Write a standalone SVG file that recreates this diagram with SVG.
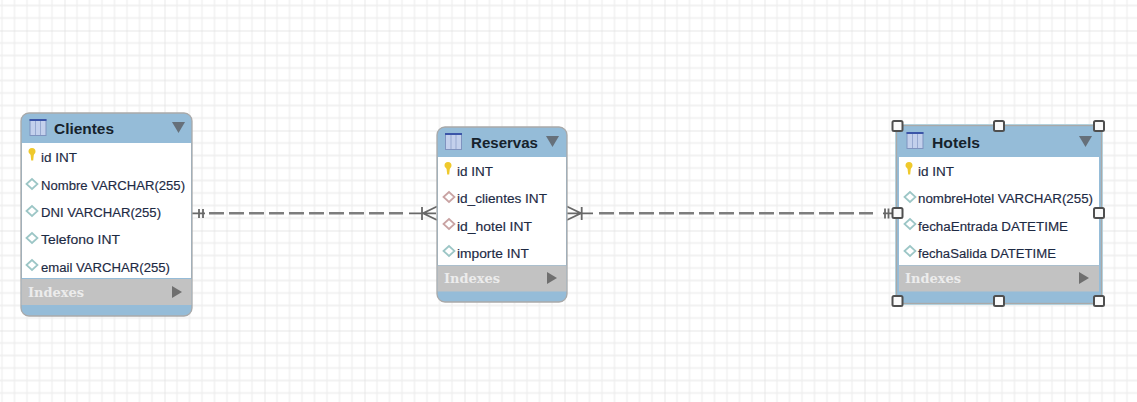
<svg xmlns="http://www.w3.org/2000/svg" width="1137" height="402" viewBox="0 0 1137 402">
<style>
.minor{stroke:#eeeeee;stroke-width:1.3;fill:none}
.major{stroke:#dfdfdf;stroke-width:1.3;fill:none}
.body{fill:#95bcd8;stroke:#a9a9a9;stroke-width:1.3}
.white{fill:#fff}
.idx{fill:#c2c2c2}
.title{font:bold 15px "Liberation Sans",Arial,sans-serif;fill:#16222c}
.col{font:12.5px "Liberation Sans",Arial,sans-serif;fill:#1d2a44;stroke:#1d2a44;stroke-width:.15}
.ix{font:bold 13px "DejaVu Serif","Liberation Serif",serif;fill:#ececec}
.tri{fill:#66707a}
.tri2{fill:#6f6f6f}
.dia{fill:#fff;stroke:#9cc6c6;stroke-width:1.7}
.fk{fill:#fff;stroke:#c9a3a3;stroke-width:1.7}
.key{fill:#efc92c}
.conn{stroke:#7d7d7d;stroke-width:2.4;fill:none}
.dash{stroke-dasharray:15 5}
.thin{stroke:#686868;stroke-width:1.8;fill:none}
.h{fill:#fafafa;stroke:#4f4f4f;stroke-width:2}
</style>
<defs>
<g id="tbl"><rect x="0.500" y="0.500" width="16" height="16" fill="#c3d0ec" stroke="#7f93bf"/><path d="M0 1H17" stroke="#3b55a8" stroke-width="2"/><path d="M6 2V16M11 2V16" stroke="#97a9d0"/></g>
<path id="key" class="key" d="M-3.500-3.500a3.500 3.500 0 0 1 7 0c0 2-1.300 2.400-1.700 3.500l-.6 5.500h-2l-.6-5.500c-.4-1.100-2.100-1.500-2.100-3.500z"/>
<path id="d" d="M-5.500 0L0-5L5.500 0L0 5Z"/>
<pattern id="g" width="100" height="100" x="64.500" y="30.500" patternUnits="userSpaceOnUse">
<path class="minor" d="M12.500 0V100M25 0V100M37.500 0V100M50 0V100M62.500 0V100M75 0V100M87.500 0V100M0 12.500H100M0 25H100M0 37.500H100M0 50H100M0 62.500H100M0 75H100M0 87.500H100"/>
<path class="major" d="M0 0V100M0 0H100"/>
</pattern>
</defs>
<rect width="1137" height="402" fill="#fff"/>
<rect width="1137" height="402" fill="url(#g)"/>
<g id="connectors">
<path class="conn dash" d="M209 213.300H403"/>
<path class="conn dash" d="M599 213.300H873"/>
<path class="thin" d="M192 213.300H205M199 209V218M203 209V218M409 213.300H436M437 206.500L423 213.300L437 220M422 207V220"/>
<path class="thin" d="M567 213.300H593M567 206.500L581 213.300L567 220M581.700 207V220M883 213.300H897M885 208.500V218.500M888.500 208.500V218.500"/>
</g>
<g id="Clientes">
<rect class="body" x="21" y="113" width="171" height="203" rx="8"/>
<rect class="white" x="22" y="143" width="169" height="135"/>
<rect class="idx" x="21.600" y="279" width="169.800" height="26"/>
<use href="#tbl" x="29.500" y="119"/>
<text class="title" x="54" y="134" textLength="60" lengthAdjust="spacingAndGlyphs">Clientes</text>
<path class="tri" d="M172 122H185L178.500 133Z"/>
<use href="#key" x="32" y="155"/>
<text class="col" x="41" y="162" textLength="36" lengthAdjust="spacingAndGlyphs">id INT</text>
<use href="#d" class="dia" x="32" y="184"/>
<text class="col" x="41" y="190" textLength="144" lengthAdjust="spacingAndGlyphs">Nombre VARCHAR(255)</text>
<use href="#d" class="dia" x="32" y="211"/>
<text class="col" x="41" y="217" textLength="120" lengthAdjust="spacingAndGlyphs">DNI VARCHAR(255)</text>
<use href="#d" class="dia" x="32" y="238"/>
<text class="col" x="41" y="244" textLength="79" lengthAdjust="spacingAndGlyphs">Telefono INT</text>
<use href="#d" class="dia" x="32" y="265"/>
<text class="col" x="41" y="272" textLength="129" lengthAdjust="spacingAndGlyphs">email VARCHAR(255)</text>
<text class="ix" x="28" y="297" textLength="56" lengthAdjust="spacingAndGlyphs">Indexes</text>
<path class="tri2" d="M172 286L182 292L172 298Z"/>
</g>
<g id="Reservas">
<rect class="body" x="437" y="127" width="130" height="175" rx="8"/>
<rect class="white" x="438" y="157" width="128" height="108"/>
<rect class="idx" x="437.600" y="265.500" width="128.800" height="26"/>
<use href="#tbl" x="445" y="133"/>
<text class="title" x="471" y="148" textLength="67" lengthAdjust="spacingAndGlyphs">Reservas</text>
<path class="tri" d="M546 136H559L552.500 147Z"/>
<use href="#key" x="448" y="169"/>
<text class="col" x="457" y="176" textLength="36" lengthAdjust="spacingAndGlyphs">id INT</text>
<use href="#d" class="fk" x="449" y="197"/>
<text class="col" x="457" y="203" textLength="90" lengthAdjust="spacingAndGlyphs">id_clientes INT</text>
<use href="#d" class="fk" x="449" y="224"/>
<text class="col" x="457" y="231" textLength="75" lengthAdjust="spacingAndGlyphs">id_hotel INT</text>
<use href="#d" class="dia" x="449" y="251"/>
<text class="col" x="457" y="258" textLength="72" lengthAdjust="spacingAndGlyphs">importe INT</text>
<text class="ix" x="444" y="283" textLength="56" lengthAdjust="spacingAndGlyphs">Indexes</text>
<path class="tri2" d="M547 272L557 278L547 284Z"/>
</g>
<g id="Hotels">
<rect x="895" y="124" width="208" height="181" fill="#b5d8e6"/>
<rect class="body" x="896.500" y="125.500" width="205" height="178"/>
<rect class="white" x="899" y="157" width="200" height="108"/>
<rect class="idx" x="899" y="265.500" width="200" height="26"/>
<use href="#tbl" x="906.500" y="132"/>
<text class="title" x="932" y="148" textLength="48" lengthAdjust="spacingAndGlyphs">Hotels</text>
<path class="tri" d="M1079 136H1092L1085.500 147Z"/>
<use href="#key" x="909" y="169"/>
<text class="col" x="918" y="176" textLength="36" lengthAdjust="spacingAndGlyphs">id INT</text>
<use href="#d" class="dia" x="910" y="197"/>
<text class="col" x="918" y="203" textLength="175" lengthAdjust="spacingAndGlyphs">nombreHotel VARCHAR(255)</text>
<use href="#d" class="dia" x="910" y="224"/>
<text class="col" x="918" y="231" textLength="150" lengthAdjust="spacingAndGlyphs">fechaEntrada DATETIME</text>
<use href="#d" class="dia" x="910" y="251"/>
<text class="col" x="918" y="258" textLength="138" lengthAdjust="spacingAndGlyphs">fechaSalida DATETIME</text>
<text class="ix" x="905" y="283" textLength="56" lengthAdjust="spacingAndGlyphs">Indexes</text>
<path class="tri2" d="M1079 272L1089 278L1079 284Z"/>
<rect class="h" x="892.500" y="121" width="10" height="10" rx="1.500"/>
<rect class="h" x="994" y="121" width="10" height="10" rx="1.500"/>
<rect class="h" x="1094" y="121" width="10" height="10" rx="1.500"/>
<rect class="h" x="892.500" y="208" width="10" height="10" rx="1.500"/>
<rect class="h" x="1094" y="208" width="10" height="10" rx="1.500"/>
<rect class="h" x="892.500" y="296" width="10" height="10" rx="1.500"/>
<rect class="h" x="994" y="296" width="10" height="10" rx="1.500"/>
<rect class="h" x="1094" y="296" width="10" height="10" rx="1.500"/>
</g>
</svg>
